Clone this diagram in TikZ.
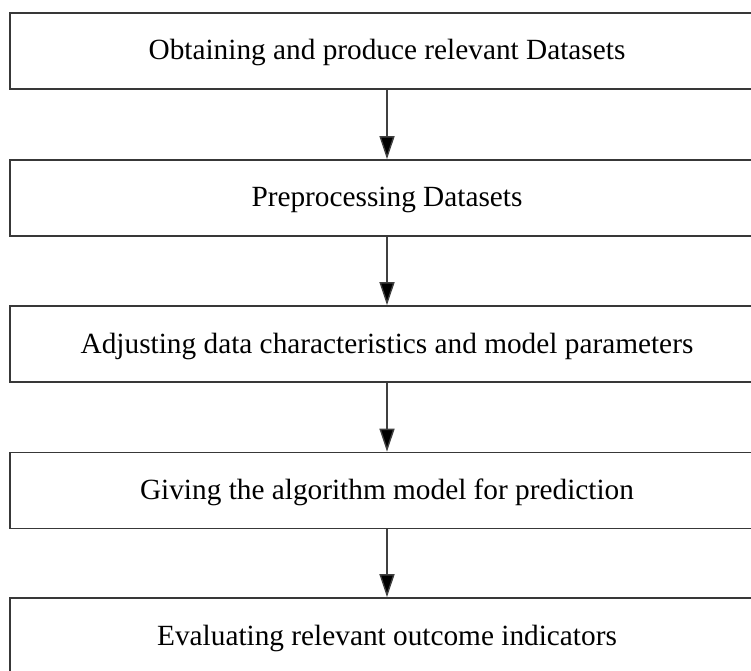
\documentclass[tikz,border=0pt]{standalone}
\usepackage{fontspec}
\setmainfont{Liberation Serif}
\usetikzlibrary{arrows.meta}
\begin{document}
\begin{tikzpicture}[x=1pt,y=1pt,
  stagebox/.style={draw=black!78, line width=1.6pt, fill=white,
    minimum width=754pt, minimum height=76pt, inner sep=0pt,
    text height=20pt, text depth=2pt,
    font=\fontsize{29.3}{34}\selectfont, text=black},
  flowarrow/.style={draw=black!75, line width=1.4pt,
    -{Triangle[length=23pt,width=15pt,fill=black]}}]
  \useasboundingbox (0,0) rectangle (751,670);
  \clip (0,0) rectangle (751,670);
  % five stages, top to bottom
  \node[stagebox] (s1) at (387,619) {Obtaining and produce relevant Datasets};
  \node[stagebox] (s2) at (387,472) {Preprocessing Datasets};
  \node[stagebox] (s3) at (387,326) {Adjusting data characteristics and model parameters};
  \node[stagebox] (s4) at (387,179.5) {Giving the algorithm model for prediction};
  \node[stagebox] (s5) at (387,34) {Evaluating relevant outcome indicators};
  % connectors between stages
  \draw[flowarrow] (s1.south) -- (s2.north);
  \draw[flowarrow] (s2.south) -- (s3.north);
  \draw[flowarrow] (s3.south) -- (s4.north);
  \draw[flowarrow] (s4.south) -- (s5.north);
\end{tikzpicture}
\end{document}
